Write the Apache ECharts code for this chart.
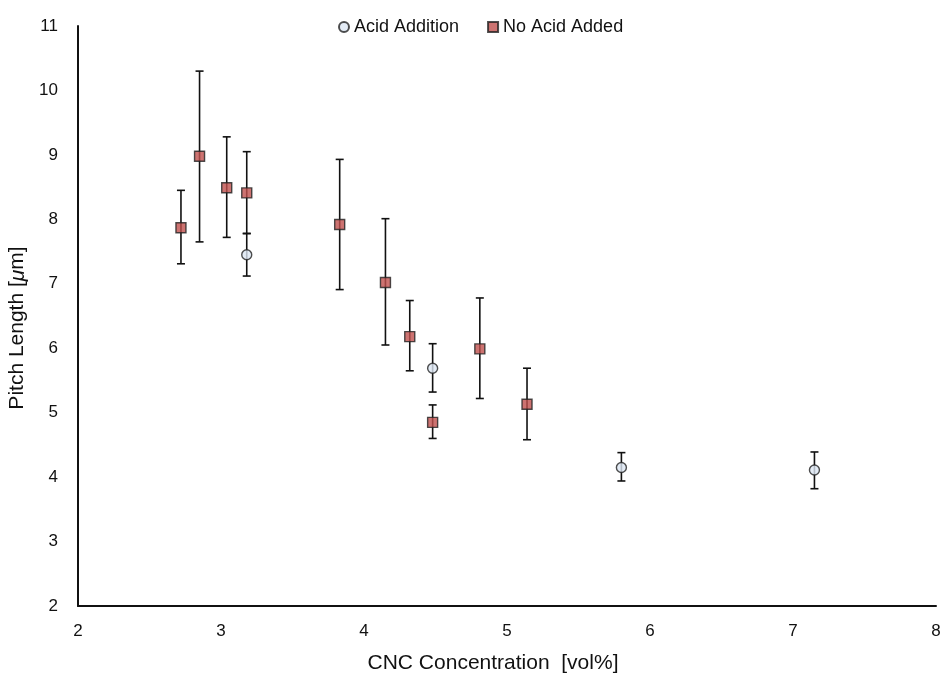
<!DOCTYPE html>
<html>
<head>
<meta charset="utf-8">
<script src="https://cdn.jsdelivr.net/npm/echarts@6/dist/echarts.min.js"></script>
<style>
  html, body { margin: 0; padding: 0; background: #fff; }
  #chart { width: 946px; height: 679px; }
</style>
</head>
<body>
<div id="chart"></div>
<script>
  // Acid Addition
  const acidX = [3.18, 4.48, 5.80, 7.15];
  const acidY = [7.45, 5.69, 4.15, 4.11];
  const acidLow = [7.12, 5.32, 3.94, 3.82];
  const acidHigh = [7.78, 6.07, 4.38, 4.39];

  // No Acid Added
  const noAcidX = [2.72, 2.85, 3.04, 3.18, 3.83, 4.15, 4.32, 4.48, 4.81, 5.14];
  const noAcidY = [7.87, 8.98, 8.49, 8.41, 7.92, 7.02, 6.18, 4.85, 5.99, 5.13];
  const noAcidLow = [7.31, 7.65, 7.72, 7.78, 6.91, 6.05, 5.65, 4.60, 5.22, 4.58];
  const noAcidHigh = [8.45, 10.30, 9.28, 9.05, 8.93, 8.01, 6.74, 5.12, 6.78, 5.69];

  const font = "'Liberation Sans', Arial, Helvetica, sans-serif";

  function points(xs, ys) {
    return xs.map((x, i) => [x, ys[i]]);
  }
  function bars(xs, lo, hi) {
    return xs.map((x, i) => [x, lo[i], hi[i]]);
  }

  // draws the vertical error bar with caps
  function renderErrorBar(params, api) {
    const top = api.coord([api.value(0), api.value(2)]);
    const bot = api.coord([api.value(0), api.value(1)]);
    const cap = 4;
    const style = { stroke: '#111', lineWidth: 1.6 };
    return {
      type: 'group',
      children: [
        { type: 'line', shape: { x1: top[0], y1: top[1], x2: bot[0], y2: bot[1] }, style: style },
        { type: 'line', shape: { x1: top[0] - cap, y1: top[1], x2: top[0] + cap, y2: top[1] }, style: style },
        { type: 'line', shape: { x1: bot[0] - cap, y1: bot[1], x2: bot[0] + cap, y2: bot[1] }, style: style },
      ],
    };
  }

  const chart = echarts.init(document.getElementById('chart'));
  const option = {
    animation: false,
    textStyle: { fontFamily: font },
    legend: {
      data: ['Acid Addition', 'No Acid Added'],
      top: 13,
      left: 333,
      itemWidth: 10,
      itemHeight: 10,
      itemGap: 28,
      textStyle: { fontSize: 18, color: '#111', fontFamily: font },
    },
    grid: { left: 78, right: 10, top: 26, bottom: 73, containLabel: false, outerBoundsMode: 'none' },
    xAxis: {
      type: 'value',
      min: 2,
      max: 8,
      interval: 1,
      name: 'CNC Concentration  [vol%]',
      nameLocation: 'middle',
      nameGap: 47,
      nameTextStyle: { fontSize: 21, color: '#111', fontFamily: font, padding: [0, 28, 0, 0] },
      axisLine: { lineStyle: { color: '#111', width: 2 } },
      axisTick: { show: false },
      splitLine: { show: false },
      axisLabel: { fontSize: 17, color: '#111', margin: 17 },
    },
    yAxis: {
      type: 'value',
      min: 2,
      max: 11,
      interval: 1,
      name: 'Pitch Length [{i|μ}m]',
      nameLocation: 'middle',
      nameGap: 47,
      nameTextStyle: {
        fontSize: 21, color: '#111', fontFamily: font, padding: [0, 24, 0, 0],
        rich: { i: { fontSize: 21, fontStyle: 'italic', color: '#111', fontFamily: font } },
      },
      axisLine: { show: true, lineStyle: { color: '#111', width: 2 } },
      axisTick: { show: false },
      splitLine: { show: false },
      axisLabel: { fontSize: 17, color: '#111', margin: 20 },
    },
    series: [
      {
        name: 'err-acid',
        type: 'custom',
        renderItem: renderErrorBar,
        data: bars(acidX, acidLow, acidHigh),
        z: 1,
      },
      {
        name: 'err-noacid',
        type: 'custom',
        renderItem: renderErrorBar,
        data: bars(noAcidX, noAcidLow, noAcidHigh),
        z: 1,
      },
      {
        name: 'Acid Addition',
        type: 'scatter',
        symbol: 'circle',
        symbolSize: 10,
        data: points(acidX, acidY),
        itemStyle: { color: '#dce6f2', borderColor: '#222', borderWidth: 1.4 },
        z: 3,
      },
      {
        name: 'No Acid Added',
        type: 'scatter',
        symbol: 'rect',
        symbolSize: 10,
        data: points(noAcidX, noAcidY),
        itemStyle: { color: '#c0504d', borderColor: '#222', borderWidth: 1.4 },
        z: 4,
      },
    ],
  };
  chart.setOption(option);
</script>
</body>
</html>
